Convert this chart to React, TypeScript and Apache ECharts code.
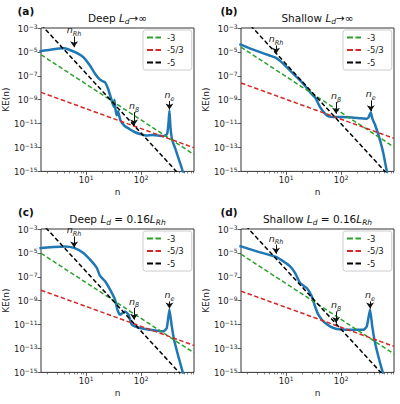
import { useEffect, useRef } from 'react';
import * as echarts from 'echarts';

const FONT = 'DejaVu Sans';

// Axis limits shared by the four panels
const nLimits = [1.51, 912];
const keLimits = [1e-15, 1e-3];

// Tick positions
const nMajorTicks = [10, 100];
const nMinorTicks = [2, 3, 4, 5, 6, 7, 8, 9, 20, 30, 40, 50, 60, 70, 80, 90, 200, 300, 400, 500, 600, 700, 800, 900];
const keMajorTicks = [1e-15, 1e-13, 1e-11, 1e-9, 1e-7, 1e-5, 1e-3];

const panelLetters = ['(a)', '(b)', '(c)', '(d)'];
const panelTitles = [
  '{r|Deep }{i|L}{s|d}{r|→∞}',
  '{r|Shallow }{i|L}{s|d}{r|→∞}',
  '{r|Deep }{i|L}{s|d}{r| = 0.16}{i|L}{s|Rh}',
  '{r|Shallow }{i|L}{s|d}{r| = 0.16}{i|L}{s|Rh}',
];

const slopeNames = ['-3', '-5/3', '-5'];
const slopeColors = ['#2ca02c', '#d62728', '#000000'];

// (a) Deep, Ld -> infinity
const nA = [1.41, 1.51, 2.24, 3.16, 3.98, 4.79, 6.31, 8.91, 11.7, 14.5, 17.8, 20.0, 22.1, 25.1, 28.8, 31.6, 32.7, 34.3, 36.3, 38.0, 41.7, 50.1, 63.1, 79.4, 100, 126, 158, 200, 251, 295, 313, 326, 339, 363, 417, 501, 589];
const keA = [1.1e-5, 1.2e-5, 1.5e-5, 1.9e-5, 2.0e-5, 1.6e-5, 9.5e-6, 3.6e-6, 7.2e-7, 1.5e-7, 4.7e-8, 3.5e-8, 2.8e-8, 7.9e-9, 1.0e-9, 2.5e-10, 1.0e-9, 1.26e-10, 5.0e-11, 1.1e-10, 2.0e-11, 6.3e-12, 3.2e-12, 1.8e-12, 1.26e-12, 1.0e-12, 1.1e-12, 1.0e-12, 8.9e-13, 1.26e-12, 1.0e-11, 1.26e-10, 6.3e-12, 5.0e-13, 7.9e-14, 6.3e-15, 6.3e-16];
const slopeEndsA = [[5.8e-6, 2.6e-14], [4.1e-9, 9.5e-14], [1.95e-3, 2.5e-17]];
const arrowsA = [[6.03, 1.95e-4, 2.5e-5], [74.1, 9.1e-11, 7.1e-12], [326, 7.6e-10, 1.5e-10]];

// (b) Shallow, Ld -> infinity
const nB = [1.41, 1.51, 2.24, 3.35, 5.01, 6.55, 7.94, 10.3, 12.6, 15.6, 20.6, 27.2, 31.6, 33.5, 36.3, 41.3, 50.9, 58.5, 72.1, 100, 158, 224, 292, 316, 345, 370, 413, 509, 585, 676, 741];
const keB = [4.5e-5, 4.0e-5, 1.9e-5, 9.5e-6, 5.0e-6, 3.2e-6, 1.6e-6, 5.2e-7, 2.0e-7, 7.8e-8, 2.1e-8, 4.3e-9, 2.0e-9, 1.6e-9, 7.9e-10, 2.4e-10, 6.8e-11, 4.0e-11, 3.5e-11, 3.5e-11, 3.2e-11, 2.8e-11, 2.6e-11, 3.5e-11, 9.1e-11, 2.5e-11, 8.0e-12, 4.0e-13, 3.2e-14, 1.0e-15, 1.6e-16];
const slopeEndsB = [[2.5e-5, 1.1e-13], [2.5e-8, 5.8e-13], [1.2e-2, 1.5e-16]];
const arrowsB = [[6.55, 3.5e-5, 6.9e-6], [80.7, 6.3e-10, 6.8e-11], [345, 8.7e-10, 1.1e-10]];

// (c) Deep, Ld = 0.16 LRh
const nC = [1.41, 1.51, 2.54, 4.13, 6.03, 8.89, 12.6, 15.6, 17.8, 22.1, 27.2, 33.5, 36.9, 41.3, 50.9, 58.9, 67.6, 95.5, 145, 254, 292, 326, 360, 396, 474, 570, 631];
const keC = [2.5e-5, 2.6e-5, 3.1e-5, 3.5e-5, 2.6e-5, 9.8e-6, 1.95e-6, 5.5e-7, 1.26e-7, 4.2e-8, 8.3e-9, 1.2e-9, 1.8e-10, 6.8e-11, 1.26e-10, 6.8e-11, 1.0e-11, 5.2e-12, 3.7e-12, 2.7e-12, 5.2e-12, 1.8e-10, 7.1e-12, 5.5e-13, 2.2e-14, 1.0e-15, 2.0e-16];
const slopeEndsC = [[9.3e-6, 4.3e-14], [7.6e-9, 1.8e-13], [3.5e-3, 4.4e-17]];
const arrowsC = [[6.03, 2.4e-4, 2.8e-5], [74.1, 2.5e-10, 2.6e-11], [326, 8.7e-10, 2.2e-10]];

// (d) Shallow, Ld = 0.16 LRh
const nD = [1.41, 1.51, 2.92, 6.55, 8.89, 11.8, 14.5, 17.9, 23.7, 29.2, 33.5, 38.5, 47.4, 62.8, 83.2, 126, 254, 292, 335, 367, 413, 509, 570, 631];
const keD = [3.7e-5, 3.5e-5, 1.35e-5, 4.6e-6, 1.95e-6, 7.4e-7, 2.1e-7, 3.0e-8, 1.15e-8, 2.3e-9, 3.3e-10, 6.8e-11, 1.86e-11, 7.1e-12, 4.3e-12, 3.7e-12, 3.7e-12, 7.1e-12, 1.8e-10, 7.1e-12, 2.9e-13, 6.2e-15, 1.0e-15, 2.5e-16];
const slopeEndsD = [[7.8e-6, 3.5e-14], [6.3e-9, 1.5e-13], [5.0e-3, 6.3e-17]];
const arrowsD = [[6.55, 4.9e-5, 8.5e-6], [80.7, 1.26e-10, 1.35e-11], [335, 8.7e-10, 2.2e-10]];

const arrowSubs = ['Rh', 'β', 'e'];

const spectraN = [nA, nB, nC, nD];
const spectraKE = [keA, keB, keC, keD];
const slopeEnds = [slopeEndsA, slopeEndsB, slopeEndsC, slopeEndsD];
const arrowSets = [arrowsA, arrowsB, arrowsC, arrowsD];

// Panel placement in pixels
const gridLeft = [41, 241, 41, 241];
const gridTop = [28, 28, 229, 229];
const GRID_W = 153;
const GRID_H = 143.4;
const letterX = [17.5, 220.5, 18, 220.5];

// Two-dash legend sample drawn as a thin filled path
const DASH_ICON = 'path://M0,0h6v1.8h-6zM8.5,0h5.5v1.8h-5.5z';

const lg = (v: number) => Math.log10(v);

const tickRich = {
  b: { fontSize: 8.5, fontFamily: FONT, color: '#222', verticalAlign: 'bottom' },
  e: { fontSize: 6, fontFamily: FONT, color: '#222', verticalAlign: 'bottom', padding: [0, 0, 4, 0] },
};

const arrowRich = {
  n: { fontSize: 9.5, lineHeight: 10, fontFamily: FONT, fontStyle: 'italic', color: '#222', verticalAlign: 'bottom', padding: [0, 0, 2.5, 0] },
  s: { fontSize: 6.5, lineHeight: 7, fontFamily: FONT, fontStyle: 'italic', color: '#222', verticalAlign: 'bottom' },
};

const titleRich = {
  r: { fontSize: 10.5, fontFamily: FONT, fill: '#111', verticalAlign: 'bottom', padding: [0, 0, 2.5, 0] },
  i: { fontSize: 10.5, fontFamily: FONT, fontStyle: 'italic', fill: '#111', verticalAlign: 'bottom', padding: [0, 0, 2.5, 0] },
  s: { fontSize: 7.5, fontFamily: FONT, fontStyle: 'italic', fill: '#111', verticalAlign: 'bottom' },
};

function buildOption() {
  const grid: any[] = [];
  const xAxis: any[] = [];
  const yAxis: any[] = [];
  const series: any[] = [];
  const legend: any[] = [];
  const graphic: any[] = [];

  for (let i = 0; i < 4; i++) {
    grid.push({
      left: gridLeft[i], top: gridTop[i], width: GRID_W, height: GRID_H,
      show: true, borderColor: '#333', borderWidth: 1, containLabel: false,
    });

    const xBase = {
      type: 'value', gridIndex: i, position: 'bottom',
      min: lg(nLimits[0]), max: lg(nLimits[1]),
      axisLine: { show: false }, splitLine: { show: false },
    };
    xAxis.push({
      ...xBase,
      name: 'n', nameLocation: 'middle', nameGap: 16,
      nameTextStyle: { fontSize: 9, fontFamily: FONT, color: '#222' },
      axisTick: { show: true, inside: false, length: 3.5, customValues: nMajorTicks.map(lg), lineStyle: { color: '#333', width: 0.8 } },
      axisLabel: {
        show: true, margin: 3.5, customValues: nMajorTicks.map(lg),
        formatter: (v: number) => `{b|10}{e|${Math.round(v)}}`, rich: tickRich,
      },
    });
    xAxis.push({
      ...xBase,
      axisTick: { show: true, inside: false, length: 2, customValues: nMinorTicks.map(lg), lineStyle: { color: '#333', width: 0.6 } },
      axisLabel: { show: false },
    });

    yAxis.push({
      type: 'value', gridIndex: i, position: 'left',
      min: lg(keLimits[0]), max: lg(keLimits[1]),
      axisLine: { show: false }, splitLine: { show: false },
      name: 'KE(n)', nameLocation: 'middle', nameGap: 28, nameRotate: 90,
      nameTextStyle: { fontSize: 9, fontFamily: FONT, color: '#222' },
      axisTick: { show: true, inside: false, length: 3.5, customValues: keMajorTicks.map(lg), lineStyle: { color: '#333', width: 0.8 } },
      axisLabel: {
        show: true, margin: 3.5, customValues: keMajorTicks.map(lg),
        formatter: (v: number) => `{b|10}{e|−${Math.abs(Math.round(v))}}`, rich: tickRich,
      },
    });

    const ns = spectraN[i];
    const kes = spectraKE[i];
    series.push({
      type: 'line', name: 'KE', xAxisIndex: 2 * i, yAxisIndex: i,
      data: ns.map((n, k) => [lg(n), lg(kes[k])]),
      symbol: 'none', smooth: 0.15, clip: true,
      lineStyle: { color: '#1f77b4', width: 2.5, join: 'round' },
      emphasis: { disabled: true },
      markLine: {
        silent: true, symbol: ['none', 'arrow'], symbolSize: 6,
        lineStyle: { color: '#111', width: 1, type: 'solid' },
        emphasis: { disabled: true },
        label: {
          show: true, position: 'start', distance: -1,
          formatter: (p: any) => `{n|n}{s|${p.name}}`, rich: arrowRich,
        },
        data: arrowSets[i].map(([n, k0, k1], j) => [
          { coord: [lg(n), lg(k0)], name: arrowSubs[j] },
          { coord: [lg(n), lg(k1)] },
        ]),
      },
    });

    slopeEnds[i].forEach((ends, j) => {
      series.push({
        type: 'line', name: slopeNames[j], xAxisIndex: 2 * i, yAxisIndex: i,
        data: [[lg(nLimits[0]), lg(ends[0])], [lg(nLimits[1]), lg(ends[1])]],
        symbol: 'none', clip: true,
        lineStyle: { color: slopeColors[j], width: 1.5, type: [4.5, 2.5] },
        itemStyle: { color: slopeColors[j] },
        emphasis: { disabled: true },
      });
    });

    legend.push({
      data: slopeNames.map((name) => ({ name, icon: DASH_ICON })),
      orient: 'vertical', selectedMode: false,
      left: gridLeft[i] + 102, top: gridTop[i] + 2,
      itemWidth: 14, itemHeight: 9, itemGap: 3.5,
      padding: [3, 8, 3, 4],
      backgroundColor: 'rgba(255,255,255,0.8)', borderColor: '#ccc', borderWidth: 1, borderRadius: 2.5,
      textStyle: { fontSize: 8.5, fontFamily: FONT, color: '#222', padding: [0, 0, 0, 1] },
    });

    graphic.push({
      type: 'text', x: gridLeft[i] + GRID_W / 2, y: gridTop[i] - 9,
      style: {
        text: panelTitles[i], rich: titleRich,
        align: 'center', verticalAlign: 'middle', textAlign: 'center', textVerticalAlign: 'middle',
      },
    });
    graphic.push({
      type: 'text', x: letterX[i], y: gridTop[i] - 17,
      style: {
        text: panelLetters[i], fill: '#111',
        font: `bold 10.5px "${FONT}"`,
        align: 'left', verticalAlign: 'middle', textAlign: 'left', textVerticalAlign: 'middle',
      },
    });
  }

  return {
    animation: false,
    backgroundColor: '#fff',
    textStyle: { fontFamily: FONT },
    grid, xAxis, yAxis, series, legend, graphic,
  };
}

export default function App() {
  const ref = useRef<HTMLDivElement>(null);
  useEffect(() => {
    document.body.style.margin = '0';
    if (!ref.current) return;
    const chart = echarts.init(ref.current, null, { renderer: 'svg' });
    chart.setOption(buildOption() as any);
    return () => chart.dispose();
  }, []);
  return <div ref={ref} style={{ width: 400, height: 404 }} />;
}
